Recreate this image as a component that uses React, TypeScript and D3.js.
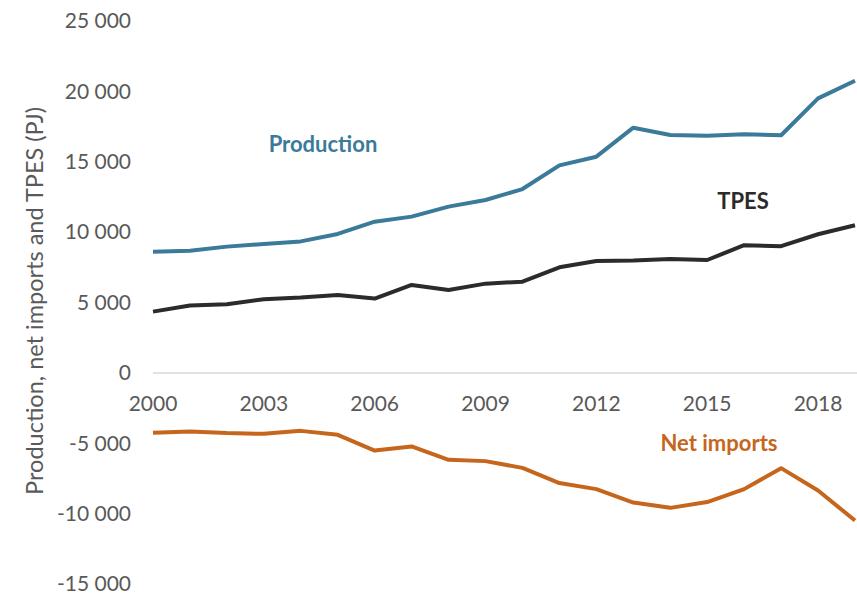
import React from "react";
import * as d3 from "d3";

const years = [2000, 2001, 2002, 2003, 2004, 2005, 2006, 2007, 2008, 2009, 2010, 2011, 2012, 2013, 2014, 2015, 2016, 2017, 2018, 2019];
const production = [8600, 8680, 8970, 9160, 9340, 9870, 10740, 11100, 11810, 12280, 13060, 14740, 15360, 17420, 16900, 16850, 16950, 16880, 19500, 20750];
const tpes = [4350, 4780, 4880, 5230, 5350, 5540, 5280, 6250, 5890, 6340, 6480, 7500, 7950, 7980, 8090, 8020, 9070, 9000, 9850, 10490];
const netImports = [-4260, -4170, -4280, -4330, -4120, -4400, -5520, -5230, -6180, -6270, -6750, -7830, -8260, -9210, -9590, -9180, -8260, -6770, -8360, -10490];
const yTicks = [-15000, -10000, -5000, 0, 5000, 10000, 15000, 20000, 25000];
const xTicks = [2000, 2003, 2006, 2009, 2012, 2015, 2018];

const W = 857;
const H = 594;
const FONT = "Lato, 'Open Sans', sans-serif";

export default function App() {
  const x = d3.scaleLinear().domain([2000, 2019]).range([153, 855]);
  const y = d3.scaleLinear().domain([-15000, 25000]).range([584, 21]);
  const line = d3
    .line<number>()
    .x((_, i) => x(years[i]))
    .y((d) => y(d));
  const fmt = (v: number) => d3.format(",")(v).replace(/,/g, " ").replace("\u2212", "-");

  const series = [
    { data: production, color: "#3b7a98" },
    { data: tpes, color: "#2b2b2b" },
    { data: netImports, color: "#c6661d" },
  ];

  return (
    <svg width={W} height={H} style={{ position: "absolute", left: 0, top: 0, background: "#fff" }}>
      <line x1={x(2000)} x2={W} y1={y(0)} y2={y(0)} stroke="#d9d9d9" strokeWidth={1.5} />
      {yTicks.map((t) => (
        <text key={t} x={131} y={y(t)} dy="0.35em" textAnchor="end" fontFamily={FONT} fontSize={21} fill="#595959">
          {fmt(t)}
        </text>
      ))}
      {xTicks.map((t) => (
        <text key={t} x={x(t)} y={y(0) + 31} dy="0.35em" textAnchor="middle" fontFamily={FONT} fontSize={21} fill="#595959">
          {t}
        </text>
      ))}
      <text
        transform={`translate(35, ${301}) rotate(-90)`}
        textAnchor="middle"
        dy="0.35em"
        fontFamily={FONT}
        fontSize={23.5}
        fill="#595959"
      >
        Production, net imports and TPES (PJ)
      </text>
      {series.map((s, i) => (
        <path key={i} d={line(s.data) || ""} fill="none" stroke={s.color} strokeWidth={4} strokeLinejoin="round" />
      ))}
      <text x={323} y={144} dy="0.35em" textAnchor="middle" fontFamily={FONT} fontWeight="bold" fontSize={22} fill="#3b7a98">
        Production
      </text>
      <text x={743} y={201} dy="0.35em" textAnchor="middle" fontFamily={FONT} fontWeight="bold" fontSize={22} fill="#2b2b2b">
        TPES
      </text>
      <text x={719} y={443} dy="0.35em" textAnchor="middle" fontFamily={FONT} fontWeight="bold" fontSize={22} fill="#c6661d">
        Net imports
      </text>
    </svg>
  );
}
